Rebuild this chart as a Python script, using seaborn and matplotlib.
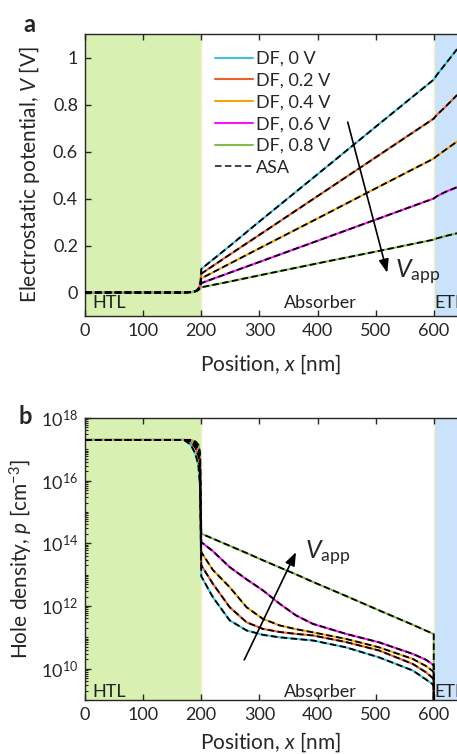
import numpy as np
import pandas as pd
import matplotlib
matplotlib.use("Agg")
import matplotlib.pyplot as plt
from matplotlib.lines import Line2D
from matplotlib.ticker import FixedLocator, LogLocator, NullFormatter
import seaborn as sns

# Applied bias labels and colours
bias_labels = ["DF, 0 V", "DF, 0.2 V", "DF, 0.4 V", "DF, 0.6 V", "DF, 0.8 V"]
bias_colors = ["#3fc3dc", "#e8622e", "#f0a60c", "#fa14f5", "#86bc4a"]

# Panel a: electrostatic potential [V] vs position [nm]
x_pot = [0, 170, 185, 192, 196, 199, 200, 250, 300, 400, 500, 600, 605, 620, 640]
pot_0v = [0, 0, 0.002, 0.008, 0.020, 0.050, 0.100, 0.200, 0.302, 0.503, 0.705, 0.906, 0.925, 0.972, 1.035]
pot_02v = [0, 0, 0.002, 0.008, 0.020, 0.045, 0.080, 0.163, 0.245, 0.410, 0.575, 0.740, 0.755, 0.790, 0.840]
pot_04v = [0, 0, 0.002, 0.007, 0.018, 0.040, 0.060, 0.124, 0.188, 0.315, 0.443, 0.570, 0.580, 0.607, 0.642]
pot_06v = [0, 0, 0.002, 0.007, 0.016, 0.030, 0.040, 0.085, 0.130, 0.220, 0.310, 0.400, 0.409, 0.428, 0.448]
pot_08v = [0, 0, 0.002, 0.006, 0.012, 0.019, 0.022, 0.047, 0.073, 0.124, 0.174, 0.225, 0.230, 0.240, 0.252]

# Panel b: log10 of hole density [cm^-3] vs position [nm]
x_hole = [0, 170, 182, 190, 195, 198, 200, 220, 249, 278, 306, 335, 363, 392, 449, 506, 564, 587, 597, 600, 600.1]
logp_0v = [17.3, 17.3, 17.15, 16.85, 16.5, 15.8, 12.95, 12.28, 11.54, 11.22, 11.08, 11.0, 10.95, 10.9,
           10.68, 10.36, 9.94, 9.65, 9.52, 9.45, 7]
logp_02v = [17.3, 17.3, 17.25, 17.05, 16.8, 16.3, 13.3, 12.71, 11.96, 11.48, 11.27, 11.17, 11.11, 11.06,
            10.85, 10.58, 10.15, 9.88, 9.72, 9.65, 7]
logp_04v = [17.3, 17.3, 17.28, 17.15, 16.95, 16.5, 13.72, 13.15, 12.6, 11.96, 11.59, 11.38, 11.26, 11.16,
            10.95, 10.68, 10.31, 10.08, 9.94, 9.88, 7]
logp_06v = [17.3, 17.3, 17.3, 17.2, 17.05, 16.7, 14.04, 13.75, 13.24, 12.85, 12.5, 12.07, 11.7, 11.43,
            11.11, 10.84, 10.47, 10.28, 10.15, 10.1, 7]
logp_08v = [17.3, 17.3, 17.3, 17.25, 17.15, 16.9, 14.31, 14.15, 13.92, 13.69, 13.46, 13.23, 13.01, 12.77,
            12.32, 11.86, 11.40, 11.21, 11.13, 11.1, 7]

x_ticks = [0, 100, 200, 300, 400, 500, 600]
pot_ticks = [0, 0.2, 0.4, 0.6, 0.8, 1]
pot_tick_labels = ["0", "0.2", "0.4", "0.6", "0.8", "1"]
hole_ticks = [1e10, 1e12, 1e14, 1e16, 1e18]

HTL_COLOR = "#d8f0b2"
ETL_COLOR = "#cbe3fa"
TICK_FS = 13
LABEL_FS = 15


def long_frame(x, series, name):
    rows = []
    for label, vals in zip(bias_labels, series):
        for xi, vi in zip(x, vals):
            rows.append({"x": xi, name: vi, "bias": label})
    return pd.DataFrame(rows)


def style_axis(ax, xpad):
    ax.set_xlim(0, 640)
    ax.xaxis.set_major_locator(FixedLocator(x_ticks))
    ax.tick_params(axis="both", which="both", direction="in", top=True, right=False,
                   labelsize=TICK_FS, pad=5)
    ax.tick_params(which="major", length=4.5, width=1)
    ax.tick_params(which="minor", length=2.5, width=0.8)
    ax.spines["right"].set_visible(False)
    for s in ["left", "top", "bottom"]:
        ax.spines[s].set_linewidth(1.0)
    ax.axvspan(0, 200, color=HTL_COLOR, lw=0, zorder=0)
    ax.axvspan(600, 700, color=ETL_COLOR, lw=0, zorder=0)
    ax.axvline(200, color="#f3efc6", lw=1.0, zorder=0.5)
    ax.axvline(600, color="#f3efc6", lw=1.0, zorder=0.5)
    ax.set_xlabel(r"Position, $x$ [nm]", fontsize=LABEL_FS, labelpad=xpad)


def draw_curves(ax, df, ycol):
    sns.lineplot(data=df, x="x", y=ycol, hue="bias", palette=bias_colors, units="bias",
                 estimator=None, sort=False, lw=1.5, legend=False, ax=ax, zorder=2)
    sns.lineplot(data=df, x="x", y=ycol, units="bias", estimator=None, sort=False,
                 color="black", lw=1.3, dashes=False, legend=False, ax=ax, zorder=3)
    for line in ax.lines[-5:]:
        line.set_linestyle((0, (3.6, 1.9)))


sns.set_style("ticks")
plt.rcParams["font.family"] = ["Lato", "DejaVu Sans"]
plt.rcParams["mathtext.fontset"] = "custom"
plt.rcParams["mathtext.rm"] = "Lato"
plt.rcParams["mathtext.it"] = "Lato:italic"
plt.rcParams["mathtext.bf"] = "Lato:bold"

fig = plt.figure(figsize=(4.57, 7.54), dpi=100)
ax_a = fig.add_axes([85 / 457, 438 / 754, 372 / 457, 282 / 754])
ax_b = fig.add_axes([85 / 457, 54 / 754, 372 / 457, 282 / 754])

# ---- panel a ----
df_pot = long_frame(x_pot, [pot_0v, pot_02v, pot_04v, pot_06v, pot_08v], "V")
draw_curves(ax_a, df_pot, "V")
style_axis(ax_a, 10)
ax_a.set_ylim(-0.1, 1.1)
ax_a.yaxis.set_major_locator(FixedLocator(pot_ticks))
ax_a.set_yticklabels(pot_tick_labels)
ax_a.set_ylabel(r"Electrostatic potential, $V$ [V]", fontsize=LABEL_FS, labelpad=8)

handles = [Line2D([], [], color=c, lw=1.5) for c in bias_colors]
handles.append(Line2D([], [], color="#333333", lw=1.3, linestyle=(0, (3.6, 1.9))))
ax_a.legend(handles, bias_labels + ["ASA"], loc="upper left", bbox_to_anchor=(0.315, 0.985),
            frameon=False, fontsize=TICK_FS, handlelength=2.1, handletextpad=0.2,
            labelspacing=0.32, borderaxespad=0.3)

ax_a.annotate("", xy=(520, 0.084), xytext=(452, 0.725),
              arrowprops=dict(arrowstyle="-|>,head_length=0.8,head_width=0.3",
                              color="black", lw=1.2, shrinkA=0, shrinkB=0))
ax_a.text(533, 0.06, r"$V_{\mathrm{app}}$", fontsize=18, va="baseline", ha="left")
ax_a.text(12, -0.045, "HTL", fontsize=TICK_FS, va="center", ha="left", color="#222222")
ax_a.text(405, -0.045, "Absorber", fontsize=TICK_FS, va="center", ha="center", color="#222222")
ax_a.text(601, -0.045, "ETL", fontsize=TICK_FS, va="center", ha="left", color="#222222")

# ---- panel b ----
series_b = [[10 ** v for v in s] for s in [logp_0v, logp_02v, logp_04v, logp_06v, logp_08v]]
df_hole = long_frame(x_hole, series_b, "p")
draw_curves(ax_b, df_hole, "p")
style_axis(ax_b, 5)
ax_b.set_yscale("log")
ax_b.set_ylim(1e9, 1e18)
ax_b.yaxis.set_major_locator(FixedLocator(hole_ticks))
ax_b.set_yticklabels([r"$10^{%d}$" % int(np.log10(t)) for t in hole_ticks])
ax_b.yaxis.set_minor_locator(LogLocator(base=10, subs=np.arange(1, 10), numticks=30))
ax_b.yaxis.set_minor_formatter(NullFormatter())
ax_b.set_ylabel(r"Hole density, $p$ [cm$^{-3}$]", fontsize=LABEL_FS, labelpad=4)

ax_b.annotate("", xy=(363, 10 ** 13.72), xytext=(274, 10 ** 10.28),
              arrowprops=dict(arrowstyle="-|>,head_length=0.8,head_width=0.3",
                              color="black", lw=1.2, shrinkA=0, shrinkB=0))
ax_b.text(378, 10 ** 13.5, r"$V_{\mathrm{app}}$", fontsize=18, va="baseline", ha="left")
ax_b.text(12, 10 ** 9.25, "HTL", fontsize=TICK_FS, va="center", ha="left", color="#222222")
ax_b.text(405, 10 ** 9.25, "Absorber", fontsize=TICK_FS, va="center", ha="center", color="#222222")
ax_b.text(601, 10 ** 9.25, "ETL", fontsize=TICK_FS, va="center", ha="left", color="#222222")

fig.text(23 / 457, 1 - 24 / 754, "a", fontsize=17, fontweight="bold", va="center", ha="left")
fig.text(18 / 457, 1 - 416 / 754, "b", fontsize=17, fontweight="bold", va="center", ha="left")

fig.savefig("out.png", dpi=100)
